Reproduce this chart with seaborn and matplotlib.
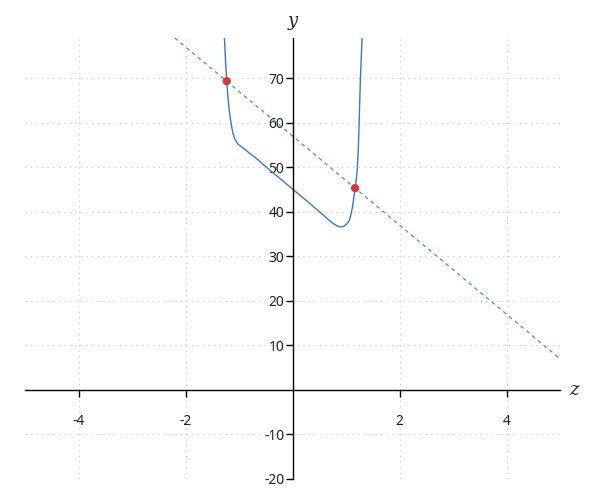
import numpy as np
import pandas as pd
import seaborn as sns
import matplotlib.pyplot as plt

# curve
curve_z = [-1.273, -1.26, -1.25, -1.23, -1.21, -1.19, -1.17, -1.15, -1.13, -1.11, -1.08, -1.05, -1.02,
           -0.99, -0.9, -0.8, -0.68, -0.4, 0.0, 0.3, 0.57, 0.72, 0.82, 0.88, 0.92, 0.97, 1.02, 1.06,
           1.09, 1.12, 1.15, 1.17, 1.19, 1.21, 1.23, 1.25, 1.27, 1.29, 1.30]
curve_y = [79, 76, 73.5, 69.3, 66.2, 63.6, 61.6, 60.0, 58.6, 57.5, 56.4, 55.7, 55.2,
           54.9, 54.1, 53.1, 52.0, 49.1, 45.1, 42.1, 39.3, 37.7, 36.9, 36.6, 36.6, 36.8, 37.3, 38.0,
           39.2, 41.0, 43.5, 45.2, 47.0, 49.5, 54.0, 62.0, 70.0, 76.0, 79.0]
# dashed line
line_z = [-2.2, 5.0]
line_y = [79.0, 7.0]
# marked points
pts_z = [-1.23, 1.17]
pts_y = [69.3, 45.3]

xticks = [-4, -2, 2, 4]
yticks = [-20, -10, 10, 20, 30, 40, 50, 60, 70]

sns.set_style("white")
plt.rcParams['axes.unicode_minus'] = False
plt.rcParams['font.family'] = ['Noto Sans', 'DejaVu Sans']

fig = plt.figure(figsize=(6, 5), dpi=100)
ax = fig.add_axes([25/600, 21/500, 535/600, 441/500])

curve = pd.DataFrame({'z': curve_z, 'y': curve_y})
line = pd.DataFrame({'z': line_z, 'y': line_y})
pts = pd.DataFrame({'z': pts_z, 'y': pts_y})

sns.lineplot(data=line, x='z', y='y', ax=ax, color='#4aa35c', lw=0.9, dashes=False, linestyle=(0, (3, 3)))
sns.lineplot(data=curve, x='z', y='y', ax=ax, sort=False, estimator=None, color='#3a78c2', lw=1.0)
sns.scatterplot(data=pts, x='z', y='y', ax=ax, color='#cc3b3b', s=36, edgecolor='none', zorder=5)

ax.set_xlim(-5, 5)
ax.set_ylim(-20, 79)
ax.set_xticks(xticks)
ax.set_yticks(yticks)
ax.set_xticklabels([str(t) for t in xticks])
ax.set_yticklabels([str(t) for t in yticks])

ax.spines['left'].set_position(('data', 0))
ax.spines['bottom'].set_position(('data', 0))
ax.spines['top'].set_visible(False)
ax.spines['right'].set_visible(False)
for s in ['left', 'bottom']:
    ax.spines[s].set_color('black')
    ax.spines[s].set_linewidth(1.0)

ax.tick_params(axis='x', direction='out', length=5, width=1, pad=12, labelsize=10, colors='black', bottom=True)
ax.tick_params(axis='y', direction='out', length=5, width=1, pad=1, labelsize=10, colors='black', left=True)
for lab in ax.get_xticklabels() + ax.get_yticklabels():
    lab.set_color('#222222')

ax.grid(True, linestyle=(0, (1, 4)), color='#c4c4c4', lw=0.8)
ax.set_axisbelow(True)

ax.set_xlabel('')
ax.set_ylabel('')
ax.text(5.18, 0, 'z', fontsize=13, style='italic', family='DejaVu Serif', va='center', ha='left')
ax.text(0, 80.8, 'y', fontsize=13, style='italic', family='DejaVu Serif', va='bottom', ha='center')

fig.savefig('out.png', dpi=100)
